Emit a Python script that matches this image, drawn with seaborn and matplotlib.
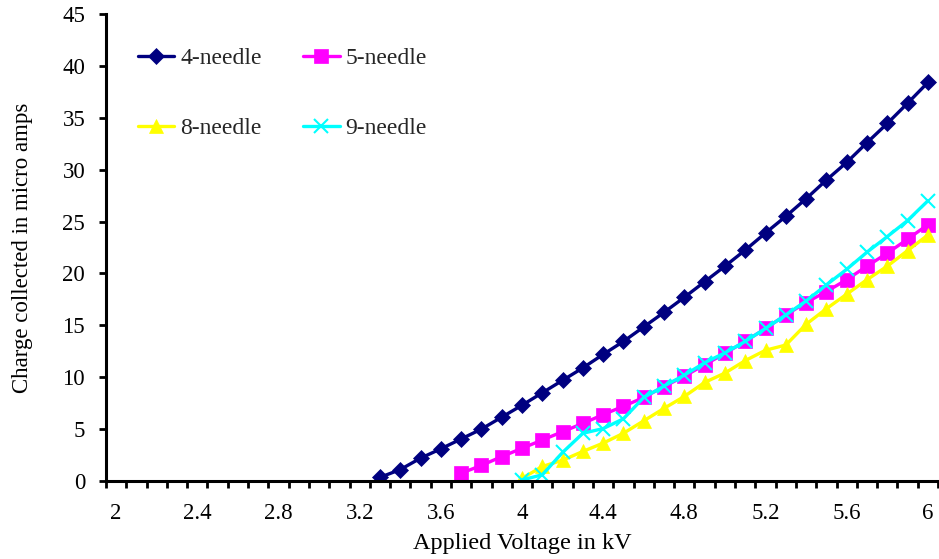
import numpy as np
import pandas as pd
import matplotlib
matplotlib.use("Agg")
import matplotlib.pyplot as plt
from matplotlib.ticker import MultipleLocator, FixedLocator
import seaborn as sns

sns.set_theme(style="white")
plt.rcParams['font.family'] = ['Liberation Serif', 'DejaVu Serif']

# Data
v4 = [3.3, 3.4, 3.5, 3.6, 3.7, 3.8, 3.9, 4.0, 4.1, 4.2, 4.3, 4.4, 4.5, 4.6, 4.7, 4.8, 4.9,
      5.0, 5.1, 5.2, 5.3, 5.4, 5.5, 5.6, 5.7, 5.8, 5.9, 6.0]
c4 = [0.35, 1.1, 2.2, 3.1, 4.05, 5.0, 6.15, 7.3, 8.5, 9.7, 10.9, 12.2, 13.45, 14.85, 16.25,
      17.7, 19.2, 20.7, 22.25, 23.9, 25.5, 27.2, 29.0, 30.7, 32.6, 34.45, 36.4, 38.4]
v5 = [3.7, 3.8, 3.9, 4.0, 4.1, 4.2, 4.3, 4.4, 4.5, 4.6, 4.7, 4.8, 4.9, 5.0, 5.1, 5.2, 5.3,
      5.4, 5.5, 5.6, 5.7, 5.8, 5.9, 6.0]
c5 = [0.75, 1.5, 2.35, 3.15, 3.95, 4.75, 5.55, 6.4, 7.2, 8.05, 9.1, 10.1, 11.2, 12.3, 13.45,
      14.7, 16.0, 17.2, 18.25, 19.4, 20.7, 21.95, 23.3, 24.7]
v8 = [4.0, 4.1, 4.2, 4.3, 4.4, 4.5, 4.6, 4.7, 4.8, 4.9, 5.0, 5.1, 5.2, 5.3, 5.4, 5.5, 5.6,
      5.7, 5.8, 5.9, 6.0]
c8 = [0.25, 1.4, 2.0, 2.85, 3.65, 4.6, 5.8, 7.0, 8.15, 9.5, 10.4, 11.6, 12.6, 13.1, 15.1,
      16.6, 18.0, 19.4, 20.7, 22.2, 23.7]
v9 = [4.0, 4.1, 4.2, 4.3, 4.4, 4.5, 4.6, 4.7, 4.8, 4.9, 5.0, 5.1, 5.2, 5.3, 5.4, 5.5, 5.6,
      5.7, 5.8, 5.9, 6.0]
c9 = [0.1, 0.6, 2.75, 4.6, 5.05, 6.0, 8.05, 9.15, 10.2, 11.4, 12.35, 13.45, 14.7, 16.0,
      17.35, 18.9, 20.4, 22.05, 23.55, 25.1, 27.0]
names = ["4-needle", "5-needle", "8-needle", "9-needle"]
xtick_labels = ["2", "2.4", "2.8", "3.2", "3.6", "4", "4.4", "4.8", "5.2", "5.6", "6"]

df = pd.concat([
    pd.DataFrame({"V": v4, "C": c4, "s": names[0]}),
    pd.DataFrame({"V": v5, "C": c5, "s": names[1]}),
    pd.DataFrame({"V": v8, "C": c8, "s": names[2]}),
    pd.DataFrame({"V": v9, "C": c9, "s": names[3]}),
])

colors = {"4-needle": "#000080", "5-needle": "#FF00FF", "8-needle": "#FFFF00", "9-needle": "#00FFFF"}
markers = {"4-needle": "D", "5-needle": "s", "8-needle": "^", "9-needle": "x"}
msizes = {"4-needle": 8, "5-needle": 10, "8-needle": 10, "9-needle": 10}

fig = plt.figure(figsize=(9.39, 5.59), dpi=100)
ax = fig.add_axes([106/939, 78/559, 832/939, 467/559])

for n in names:
    sub = df[df["s"] == n]
    sns.lineplot(data=sub, x="V", y="C", ax=ax, color=colors[n], marker=markers[n],
                 markersize=msizes[n], markeredgecolor=colors[n],
                 markeredgewidth=1.5 if n == "9-needle" else 0.5,
                 linewidth=2.4, label=n, legend=False)

ax.set_xlim(1.95, 6.05)
ax.set_ylim(0, 45)
ax.yaxis.set_major_locator(MultipleLocator(5))
ax.xaxis.set_major_locator(FixedLocator([float(t) for t in xtick_labels]))
ax.set_xticklabels(xtick_labels)
ax.xaxis.set_minor_locator(FixedLocator(np.arange(1.95, 6.06, 0.1)))
ax.tick_params(axis="x", which="major", length=0, labelsize=16.5, pad=16, colors="black")
ax.tick_params(axis="x", which="minor", length=5, width=2, direction="out", bottom=True, color="black")
ax.tick_params(axis="y", which="major", length=5, width=2, direction="out", left=True,
               labelsize=16.5, color="black", labelcolor="black", pad=10)

for s in ["top", "right"]:
    ax.spines[s].set_visible(False)
for s in ["left", "bottom"]:
    ax.spines[s].set_color("black")
    ax.spines[s].set_linewidth(2.2)

ax.set_xlabel("Applied Voltage in kV", fontsize=17.5, color="black")
ax.set_ylabel("Charge collected in micro amps", fontsize=16.5, color="black")
ax.xaxis.set_label_coords(0.5, -0.112)
ax.yaxis.set_label_coords(-0.088, 0.5)

handles, labels = ax.get_legend_handles_labels()
order = [0, 2, 1, 3]
leg = ax.legend([handles[i] for i in order], [labels[i] for i in order], ncol=2,
                loc="upper left", bbox_to_anchor=(0.038, 0.928), frameon=False,
                borderpad=0, borderaxespad=0,
                fontsize=17, labelspacing=2.05, columnspacing=1.75, handlelength=1.55,
                handletextpad=0.25)

fig.savefig("out.png", dpi=100, facecolor="white")
